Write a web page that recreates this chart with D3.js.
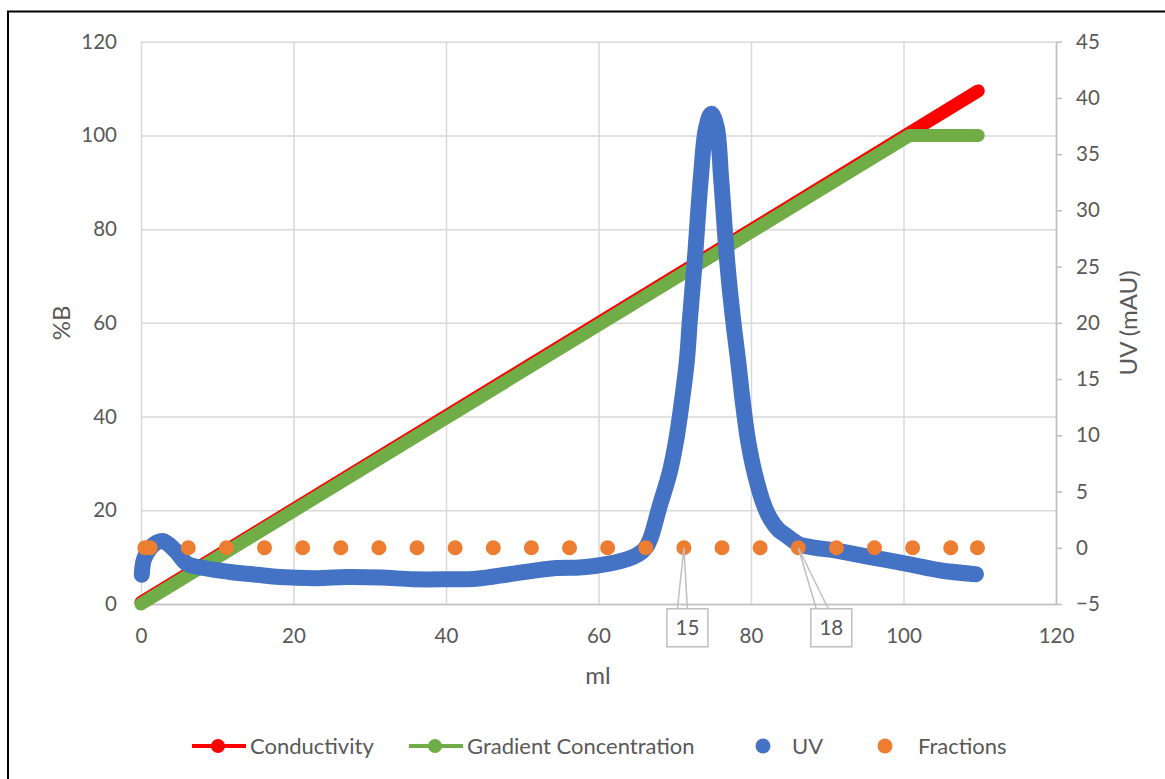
<!DOCTYPE html>
<html>
<head>
<meta charset="utf-8">
<script src="https://cdnjs.cloudflare.com/ajax/libs/d3/7.8.5/d3.min.js"></script>
<style>
  html, body { margin: 0; padding: 0; background: #fff; }
  svg { display: block; font-family: Lato, "Open Sans", sans-serif; }
</style>
</head>
<body>
<svg id="chart" width="1165" height="779"></svg>
<script>
// ---- Data -------------------------------------------------------------
// Elution volume (ml) / %B for the conductivity trace
const conductivityMl = [0, 109.8];
const conductivityPct = [0.35, 109.5];

// Programmed gradient (%B)
const gradientMl = [0, 100.8, 109.8];
const gradientPct = [0, 100, 100];

// UV absorbance trace (mAU)
const uvMl = [0.1, 0.4, 1.2, 2.0, 2.9, 3.8, 4.7, 6.0, 8.2, 11.7, 15.2, 18.2, 23.0, 27.0, 31.5,
              35.7, 40.0, 44.0, 48.8, 54.5, 57.5, 59.7, 62.8, 64.6, 65.6, 66.3, 66.9, 68.0, 69.3,
              70.2, 70.95, 71.6, 72.0, 72.6, 73.4, 74.1, 74.8, 75.5, 76.1, 76.9, 77.6, 78.3, 78.9,
              79.6, 80.5, 81.7, 82.6, 83.6, 84.6, 85.5, 86.3, 88.5, 91.2, 96.2, 101.0, 104.7, 109.5];
const uvMau = [-2.4, -1.0, -0.05, 0.45, 0.6, 0.2, -0.4, -1.4, -1.8, -2.15, -2.4, -2.6, -2.7, -2.6, -2.65,
               -2.8, -2.8, -2.75, -2.3, -1.8, -1.75, -1.6, -1.2, -0.8, -0.4, 0.1, 1.0, 3.65, 6.6,
               9.6, 13.1, 16.7, 20.4, 25.3, 32.7, 37.3, 38.6, 37.4, 32.7, 25.3, 20.6, 16.7, 13.1,
               9.6, 6.6, 3.8, 2.5, 1.6, 1.1, 0.65, 0.3, 0.0, -0.26, -0.9, -1.5, -2.0, -2.35];

// Collected fractions, marked on the UV baseline
const fractionMl = [0.5, 1.2, 6.2, 11.2, 16.2, 21.2, 26.2, 31.2, 36.2, 41.2, 46.2, 51.2, 56.2,
                    61.2, 66.2, 71.2, 76.2, 81.2, 86.2, 91.2, 96.2, 101.2, 106.2, 109.7];
const fractionMau = fractionMl.map(() => 0);
const fractionLabelIndex = [15, 18];
const fractionLabelText = ["15", "18"];

// Axis ticks
const mlTicks = [0, 20, 40, 60, 80, 100, 120];
const pctTicks = [0, 20, 40, 60, 80, 100, 120];
const uvTicks = [-5, 0, 5, 10, 15, 20, 25, 30, 35, 40, 45];

// Legend entries
const legendNames = ["Conductivity", "Gradient Concentration", "UV", "Fractions"];

// ---- Layout -------------------------------------------------------------
const plot = { left: 141, right: 1056, top: 41.7, bottom: 604 };
const colors = { cond: "#ff0000", grad: "#70ad47", uv: "#4472c4", frac: "#ed7d31",
                 grid: "#d9d9d9", axis: "#bfbfbf", text: "#595959" };
const tickFont = 20.5, titleFont = 24, legendFont = 22;

const svg = d3.select("#chart");

// chart frame
svg.append("rect").attr("x", 8).attr("y", 11.5).attr("width", 1300).attr("height", 900)
  .attr("fill", "#fff").attr("stroke", "#000").attr("stroke-width", 2);

const x = d3.scaleLinear().domain([0, 120]).range([plot.left, plot.right]);
const yPct = d3.scaleLinear().domain([0, 120]).range([plot.bottom, plot.top]);
const yUv = d3.scaleLinear().domain([-5, 45]).range([plot.bottom, plot.top]);

const W = plot.right - plot.left, H = plot.bottom - plot.top;

// gridlines
svg.append("g").attr("transform", `translate(${plot.left},0)`)
  .call(d3.axisLeft(yPct).tickValues(pctTicks).tickSize(-W).tickFormat(""))
  .call(g => g.select(".domain").remove())
  .call(g => g.selectAll("line").attr("stroke", colors.grid).attr("stroke-width", 1.5));
svg.append("g").attr("transform", `translate(0,${plot.bottom})`)
  .call(d3.axisBottom(x).tickValues(mlTicks).tickSize(-H).tickFormat(""))
  .call(g => g.select(".domain").remove())
  .call(g => g.selectAll("line").attr("stroke", colors.grid).attr("stroke-width", 1.5));

const styleText = g => g.selectAll("text").attr("fill", colors.text)
  .attr("font-size", tickFont).attr("font-family", "Lato, sans-serif");

// left axis labels
svg.append("g").attr("transform", `translate(${plot.left},0)`)
  .call(d3.axisLeft(yPct).tickValues(pctTicks).tickSize(0).tickPadding(24))
  .call(g => g.select(".domain").remove())
  .call(styleText);

// bottom axis
svg.append("g").attr("transform", `translate(0,${plot.bottom})`)
  .call(d3.axisBottom(x).tickValues(mlTicks).tickSize(0).tickSizeOuter(0).tickPadding(24))
  .call(g => g.select(".domain").attr("stroke", colors.axis).attr("stroke-width", 1.5))
  .call(styleText);

// right axis
svg.append("g").attr("transform", `translate(${plot.right},0)`)
  .call(d3.axisRight(yUv).tickValues(uvTicks).tickSize(6).tickSizeOuter(0).tickPadding(14))
  .call(g => g.select(".domain").attr("stroke", colors.axis).attr("stroke-width", 1.5))
  .call(g => g.selectAll("line").attr("stroke", colors.axis).attr("stroke-width", 1.5))
  .call(styleText);

// axis titles
svg.append("text").attr("transform", `translate(70,${(plot.top + plot.bottom) / 2}) rotate(-90)`)
  .attr("text-anchor", "middle").attr("fill", colors.text).attr("font-size", titleFont).text("%B");
svg.append("text").attr("x", 598).attr("y", 684)
  .attr("text-anchor", "middle").attr("fill", colors.text).attr("font-size", titleFont).text("ml");
svg.append("text").attr("transform", `translate(1137,${(plot.top + plot.bottom) / 2}) rotate(-90)`)
  .attr("text-anchor", "middle").attr("fill", colors.text).attr("font-size", titleFont).text("UV (mAU)");

// ---- Series -------------------------------------------------------------
const pctLine = d3.line().x(d => x(d[0])).y(d => yPct(d[1]));
const uvLine = d3.line().x(d => x(d[0])).y(d => yUv(d[1])).curve(d3.curveCatmullRom.alpha(0.5));

svg.append("path").datum(d3.zip(conductivityMl, conductivityPct))
  .attr("d", pctLine).attr("fill", "none").attr("stroke", colors.cond)
  .attr("stroke-width", 13).attr("stroke-linecap", "round").attr("stroke-linejoin", "round");

svg.append("path").datum(d3.zip(gradientMl, gradientPct))
  .attr("d", pctLine).attr("fill", "none").attr("stroke", colors.grad)
  .attr("stroke-width", 13).attr("stroke-linecap", "round").attr("stroke-linejoin", "round");

svg.append("path").datum(d3.zip(uvMl, uvMau))
  .attr("d", uvLine).attr("fill", "none").attr("stroke", colors.uv)
  .attr("stroke-width", 16).attr("stroke-linecap", "round").attr("stroke-linejoin", "round");

const fractions = d3.zip(fractionMl, fractionMau);
svg.append("g").selectAll("circle").data(fractions).join("circle")
  .attr("cx", d => x(d[0])).attr("cy", d => yUv(d[1])).attr("r", 7.5)
  .attr("fill", colors.frac);

// ---- Fraction callouts ------------------------------------------------
const calloutOffsets = [{ dx: 3.5, pin: [-10, 0] }, { dx: 33, pin: [-15, -3] }];
fractionLabelIndex.forEach((idx, i) => {
  const px = x(fractionMl[idx]), py = yUv(fractionMau[idx]);
  const o = calloutOffsets[i];
  const bx = px + o.dx, by = py + 61, bw = 41, bh = 38;
  const g = svg.append("g");
  g.append("path")
    .attr("d", `M${bx + o.pin[0]},${by} L${px},${py} L${bx + o.pin[1]},${by}`)
    .attr("fill", "none").attr("stroke", colors.axis).attr("stroke-width", 1.5);
  g.append("rect").attr("x", bx - bw / 2).attr("y", by).attr("width", bw).attr("height", bh)
    .attr("fill", "#fff").attr("stroke", colors.axis).attr("stroke-width", 1.5);
  g.append("text").attr("x", bx).attr("y", by + bh / 2).attr("dy", "0.35em")
    .attr("text-anchor", "middle").attr("fill", colors.text).attr("font-size", tickFont)
    .text(fractionLabelText[i]);
});

// ---- Legend -------------------------------------------------------------
const legendY = 746;
const legendItems = [
  { name: legendNames[0], color: colors.cond, line: true, x0: 192 },
  { name: legendNames[1], color: colors.grad, line: true, x0: 409 },
  { name: legendNames[2], color: colors.uv, line: false, x0: 754 },
  { name: legendNames[3], color: colors.frac, line: false, x0: 876 }
];
const lg = svg.append("g");
legendItems.forEach(it => {
  if (it.line) {
    lg.append("line").attr("x1", it.x0).attr("x2", it.x0 + 54).attr("y1", legendY).attr("y2", legendY)
      .attr("stroke", it.color).attr("stroke-width", 4);
    lg.append("circle").attr("cx", it.x0 + 26).attr("cy", legendY).attr("r", 7).attr("fill", it.color);
    lg.append("text").attr("x", it.x0 + 58).attr("y", legendY).attr("dy", "0.35em")
      .attr("fill", colors.text).attr("font-size", legendFont).text(it.name);
  } else {
    lg.append("circle").attr("cx", it.x0 + 9).attr("cy", legendY).attr("r", 7.5).attr("fill", it.color);
    lg.append("text").attr("x", it.x0 + (it.name === "UV" ? 38 : 42)).attr("y", legendY).attr("dy", "0.35em")
      .attr("fill", colors.text).attr("font-size", legendFont).text(it.name);
  }
});
</script>
</body>
</html>
